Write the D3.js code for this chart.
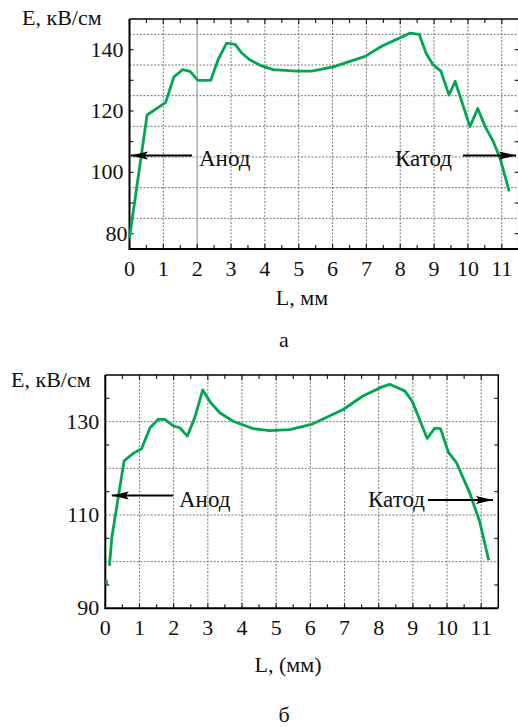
<!DOCTYPE html>
<html><head><meta charset="utf-8">
<script src="https://cdn.jsdelivr.net/npm/d3@7"></script>
<style>
html,body{margin:0;padding:0;background:#fff;}
svg{display:block;}
</style></head>
<body>
<svg id="c" width="518" height="727"></svg>
<script>
// ---- Data: chart (а) ----
const aL = [0, 0.52, 1.07, 1.31, 1.57, 1.79, 2.02, 2.40, 2.62, 2.87, 3.12, 3.32, 3.54, 3.86, 4.25, 4.94, 5.38, 6.02, 6.96, 7.45, 8.29, 8.56, 8.76, 8.96, 9.20, 9.44, 9.62, 10.06, 10.29, 10.51, 10.75, 10.95, 11.22];
const aE = [78.6, 118.7, 122.8, 131.1, 133.5, 132.9, 130, 130, 136.8, 142.1, 141.7, 138.9, 136.8, 134.9, 133.5, 133.0, 133.0, 134.4, 137.8, 141.1, 145.4, 145.0, 138.9, 135.2, 133.0, 125.2, 129.7, 114.9, 120.8, 114.9, 110.0, 104.6, 93.8];
const aYTicks = [80, 100, 120, 140];
// ---- Data: chart (б) ----
const bL = [0.12, 0.19, 0.55, 0.82, 1.06, 1.31, 1.55, 1.74, 1.99, 2.18, 2.40, 2.62, 2.85, 3.08, 3.35, 3.74, 4.33, 4.81, 5.40, 6.03, 6.96, 7.54, 8.08, 8.32, 8.76, 8.98, 9.42, 9.64, 9.81, 10.04, 10.27, 10.66, 10.95, 11.22];
const bE = [99.1, 105.1, 121.6, 123.2, 124.2, 128.7, 130.5, 130.5, 129.1, 128.7, 126.9, 130.9, 136.8, 134.1, 131.9, 130.1, 128.5, 128.1, 128.3, 129.4, 132.6, 135.5, 137.4, 138.0, 136.6, 134.4, 126.4, 128.6, 128.5, 123.4, 121.3, 114.8, 108.7, 100.3];
const bStartL = [0];
const bStartE = [95.6];
const bYTicks = [90, 110, 130];
const xTicks = [0,1,2,3,4,5,6,7,8,9,10,11];

const svg = d3.select("#c");
const GREEN = "#00a651";
const FONT = "Liberation Serif";

function drawChart(o){
  const g = svg.append("g");
  const x = d3.scaleLinear().domain([0, 11.5]).range([o.left, o.right]);
  const y = d3.scaleLinear().domain(o.yDomain).range([o.bottom, o.top]);
  // grid
  const gridY = d3.range(o.yDomain[0], o.yDomain[1] + 0.001, 10).filter(v => v > o.yDomain[0] && v < o.yDomain[1]);
  g.selectAll(".gy").data(gridY).join("line")
    .attr("x1", o.left).attr("x2", o.right).attr("y1", d => y(d)).attr("y2", d => y(d))
    .attr("stroke", "#777").attr("stroke-width", 1).attr("stroke-dasharray", "2,1.5");
  g.selectAll(".gx").data(xTicks.filter(d => d > 0)).join("line")
    .attr("x1", d => x(d)).attr("x2", d => x(d)).attr("y1", o.top).attr("y2", o.bottom)
    .attr("stroke", d => (o.solidX && d === o.solidX) ? "#a0a0a0" : "#777")
    .attr("stroke-width", d => (o.solidX && d === o.solidX) ? 1.3 : 1)
    .attr("stroke-dasharray", d => (o.solidX && d === o.solidX) ? null : "2,1.5");
  // minor ticks
  const minorX = d3.range(0.5, 11.5, 1);
  const minorY = d3.range(o.yDomain[0] + 5, o.yDomain[1], 10);
  const tk = [];
  minorX.forEach(d => { tk.push([x(d), o.bottom, x(d), o.bottom - 4]); tk.push([x(d), o.top, x(d), o.top + 4]); });
  xTicks.forEach(d => { tk.push([x(d), o.bottom, x(d), o.bottom - 5]); tk.push([x(d), o.top, x(d), o.top + 5]); });
  minorY.forEach(d => { tk.push([o.left, y(d), o.left + 4, y(d)]); tk.push([o.right, y(d), o.right - 4, y(d)]); });
  g.selectAll(".tk").data(tk).join("line")
    .attr("x1", d => d[0]).attr("y1", d => d[1]).attr("x2", d => d[2]).attr("y2", d => d[3])
    .attr("stroke", "#222").attr("stroke-width", 1.2);
  // frame
  g.append("path").attr("d", `M${o.left},${o.top}H${o.right}V${o.bottom}`)
    .attr("fill", "none").attr("stroke", "#000").attr("stroke-width", 1.5);
  g.append("path").attr("d", `M${o.left},${o.top}V${o.bottom}H${o.right}`)
    .attr("fill", "none").attr("stroke", "#000").attr("stroke-width", 2);
  // text helper
  const T = (tx, ty, s, size, anchor) => g.append("text").attr("x", tx).attr("y", ty)
    .attr("font-family", FONT).attr("font-size", size).attr("text-anchor", anchor || "start").attr("fill", "#111").text(s);
  xTicks.forEach(d => T(x(d), o.bottom + 27, d, 22, "middle"));
  o.yTicks.forEach(d => T(o.left - 6 + (o.yLabelShift ? o.yLabelShift(d) : 0), y(d) + 7, d, 22, "end"));
  T(o.titleX, o.titleY, "E, кВ/см", 22);
  T(o.xLabelX, o.xLabelY, o.xLabel, 22, "middle");
  T(284, o.letterY, o.letter, 22, "middle");
  // curve
  const line = d3.line().x(d => x(d[0])).y(d => y(d[1]));
  g.append("path").datum(o.L.map((v, i) => [v, o.E[i]]))
    .attr("d", line).attr("fill", "none").attr("stroke", GREEN)
    .attr("stroke-width", 2.8).attr("stroke-linejoin", "round");
  if (o.extraL) {
    g.selectAll(".ex").data(o.extraL.map((v, i) => [v, o.extraE[i]])).join("rect")
      .attr("x", d => x(d[0])).attr("y", d => y(d[1]) - 2).attr("width", 2.5).attr("height", 4).attr("fill", GREEN);
  }
  // arrows
  function arrow(x1, x2, yy){
    g.append("line").attr("x1", x1).attr("x2", x2).attr("y1", yy).attr("y2", yy)
      .attr("stroke", "#000").attr("stroke-width", 2);
    const dir = x2 > x1 ? 1 : -1;
    const tip = x2, base = x2 - dir * 17;
    g.append("path").attr("d", `M${tip},${yy}L${base},${yy - 4}L${base + dir*3},${yy}L${base},${yy + 4}Z`).attr("fill", "#000");
  }
  arrow(o.anod.from, x(o.anod.to), y(o.anod.y));
  T(o.anod.tx, o.anod.ty, "Анод", 23);
  arrow(o.katod.from, o.katod.to, y(o.katod.y));
  T(o.katod.tx, o.katod.ty, "Катод", 23);
}

drawChart({
  left: 129.5, right: 518.7, top: 19, bottom: 249, yDomain: [75, 150], yTicks: aYTicks,
  L: aL, E: aE, solidX: 2,
  yLabelShift: d => d === 80 ? 4 : 0,
  titleX: 22, titleY: 25, xLabel: "L, мм", xLabelX: 302, xLabelY: 305, letter: "а", letterY: 347,
  anod: {from: 192, to: 0.04, y: 105.5, tx: 199, ty: 166},
  katod: {from: 463, to: 516, y: 105.5, tx: 395, ty: 166}
});
drawChart({
  left: 105.3, right: 498.3, top: 375, bottom: 608.3, yDomain: [90, 140], yTicks: bYTicks,
  L: bL, E: bE, extraL: bStartL, extraE: bStartE,
  titleX: 11, titleY: 387, xLabel: "L, (мм)", xLabelX: 288, xLabelY: 672, letter: "б", letterY: 722,
  anod: {from: 173, to: 0.19, y: 114.2, tx: 179, ty: 507},
  katod: {from: 428, to: 493, y: 113.2, tx: 368, ty: 507}
});
</script>
</body></html>
